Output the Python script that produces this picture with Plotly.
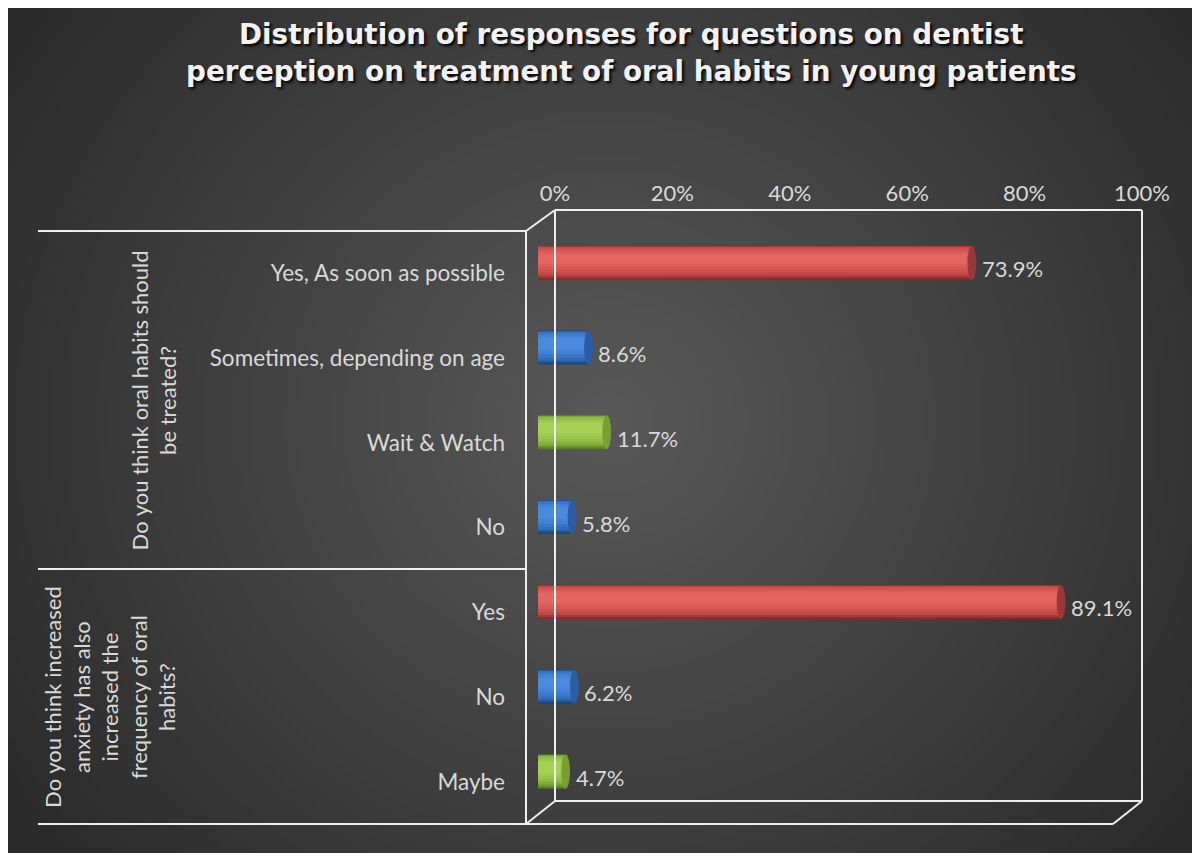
import base64
import struct
import zlib

import numpy as np
import plotly.graph_objects as go

# figure sized so that, with the page's 8px body margin, it fits the 1200x861 window exactly
W, H = 1184, 845
OFF = 8

# ---------------- data ----------------
title_lines = ["Distribution of responses for questions on dentist",
               "perception on treatment of oral habits in young patients"]
group_labels = ["Do you think oral habits should<br>be treated?",
                "Do you think increased<br>anxiety has also<br>increased the<br>frequency of oral<br>habits?"]
group_sizes = [4, 3]
categories = ["Yes, As soon as possible", "Sometimes, depending on age", "Wait & Watch", "No",
              "Yes", "No", "Maybe"]
values = [73.9, 8.6, 11.7, 5.8, 89.1, 6.2, 4.7]
color_keys = ["red", "blue", "green", "blue", "red", "blue", "green"]
x_ticks = [0, 20, 40, 60, 80, 100]
x_tick_labels = ["0%", "20%", "40%", "60%", "80%", "100%"]

# ---------------- styling ----------------
FONT = "Lato"
TXT = "#d9d9d9"
LINE = "#eeeeee"

layer_px = [(-17, 17), (-16.5, 15), (-16, 13), (-15, 10), (-13, 7), (-11, 4), (-9, 1)]
palette = {
    "red":   ["#852e2c", "#a53b39", "#bf4946", "#cd514e", "#d65854", "#dd5f5b", "#e2655f"],
    "blue":  ["#1d4780", "#285a9f", "#336cbb", "#3b77c9", "#417fd2", "#4685d8", "#4a8bdd"],
    "green": ["#5a8222", "#709830", "#84ae3c", "#90bd45", "#98c64b", "#9fcd51", "#a5d256"],
}
cap_color = {"red": "#96393a", "blue": "#2b5da0", "green": "#7a9e36"}

SLOT = 84.8  # pixel height of one category slot


def px(x):
    return (x - OFF) / W


def py(y):
    return 1 - (y - OFF) / H


def make_bg(w=296, h=211):
    yy, xx = np.mgrid[0:h, 0:w]
    X = (xx + 0.5) * (W / w) + OFF
    Y = (yy + 0.5) * (H / h) + OFF
    d = np.hypot(X - 610, (Y - 420) * 1.05)
    t = np.clip(1 - d / 720, 0, 1)
    v = (43 + 46 * t).astype(np.uint8)
    raw = b"".join(b"\x00" + v[r].tobytes() for r in range(h))

    def chunk(tag, data):
        return (struct.pack(">I", len(data)) + tag + data +
                struct.pack(">I", zlib.crc32(tag + data) & 0xFFFFFFFF))

    png = (b"\x89PNG\r\n\x1a\n" +
           chunk(b"IHDR", struct.pack(">IIBBBBB", w, h, 8, 0, 0, 0, 0)) +
           chunk(b"IDAT", zlib.compress(raw, 9)) + chunk(b"IEND", b""))
    return "data:image/png;base64," + base64.b64encode(png).decode()


fig = go.Figure()
n = len(categories)
ypos = list(range(n))

for li, (top, bot) in enumerate(layer_px):
    fig.add_trace(go.Bar(
        x=values, y=ypos, orientation="h",
        width=(bot - top) / SLOT, offset=top / SLOT,
        marker=dict(color=[palette[k][li] for k in color_keys], line=dict(width=0)),
        hoverinfo="skip", showlegend=False, xaxis="x", yaxis="y",
    ))

fig.add_trace(go.Scatter(x=[0] * n, y=ypos, mode="markers", marker=dict(opacity=0),
                         hoverinfo="skip", showlegend=False, xaxis="x", yaxis="y2"))
fig.add_trace(go.Scatter(x=x_ticks, y=[0] * len(x_ticks), mode="markers", marker=dict(opacity=0),
                         hoverinfo="skip", showlegend=False, xaxis="x2", yaxis="y"))

shapes = []
annotations = []
hw = 0.75
for i, (v, k) in enumerate(zip(values, color_keys)):
    shapes.append(dict(type="circle", xref="x", yref="y", x0=-hw, x1=hw,
                       y0=i - 16 / SLOT, y1=i + 16 / SLOT, fillcolor=palette[k][3],
                       line=dict(width=0), layer="below"))
    shapes.append(dict(type="circle", xref="x", yref="y", x0=v - hw, x1=v + hw,
                       y0=i - 17 / SLOT, y1=i + 17 / SLOT, fillcolor=cap_color[k],
                       line=dict(width=0), layer="above"))
    annotations.append(dict(x=v, y=i, xref="x", yref="y", text=f"{v:.1f}%", showarrow=False,
                            xanchor="left", xshift=8, yshift=-6,
                            font=dict(family=FONT, size=22, color=TXT)))

frame = [
    ((555, 210), (1142, 210)), ((1142, 210), (1142, 801)), ((1142, 801), (555, 801)),
    ((555, 801), (555, 210)),
    ((526, 231), (526, 824)), ((526, 824), (1113, 824)),
    ((526, 231), (555, 210)), ((1113, 824), (1142, 801)), ((526, 824), (555, 801)),
    ((38, 231), (526, 231)), ((38, 569), (526, 569)), ((38, 824), (526, 824)),
]
for (x0, y0), (x1, y1) in frame:
    shapes.append(dict(type="line", xref="paper", yref="paper", x0=px(x0), y0=py(y0),
                       x1=px(x1), y1=py(y1), line=dict(color=LINE, width=2), layer="above"))

group_x = [154, 110]
start = 0
front_top, front_bot = 231, 824
slot_front = (front_bot - front_top) / n
for g, size, gx in zip(group_labels, group_sizes, group_x):
    yc = front_top + slot_front * (start + size / 2)
    annotations.append(dict(x=px(gx), y=py(yc), xref="paper", yref="paper", text=g,
                            textangle=-90, showarrow=False, xanchor="center", yanchor="middle",
                            align="center", font=dict(family=FONT, size=22, color=TXT)))
    start += size

for line_text, ly in zip(title_lines, [35, 72]):
    annotations.append(dict(x=px(631), y=py(ly), xref="paper", yref="paper",
                            text=line_text, showarrow=False,
                            xanchor="center", yanchor="middle", align="center",
                            font=dict(family="DejaVu Sans", size=27.8, color="#f2f2f2",
                                      weight="bold", shadow="2px 2px 3px #000000")))

bar_top = 262.7 - SLOT / 2
bar_bot = bar_top + SLOT * n

fig.update_layout(
    width=W, height=H, margin=dict(l=0, r=0, t=0, b=0, pad=0, autoexpand=False),
    paper_bgcolor="#2b2b2b", plot_bgcolor="rgba(0,0,0,0)",
    barmode="overlay", showlegend=False,
    xaxis=dict(domain=[px(538), px(1125)], range=[0, 100], visible=False, fixedrange=True,
               automargin=False),
    yaxis=dict(domain=[py(bar_bot), py(bar_top)], range=[n - 0.5, -0.5], visible=False,
               fixedrange=True, automargin=False),
    yaxis2=dict(domain=[py(front_bot), py(front_top)], range=[n - 0.5, -0.5], anchor="free",
                position=px(526), side="left", tickmode="array", tickvals=ypos,
                ticktext=categories, showgrid=False, zeroline=False, showline=False, ticks="",
                ticklabelstandoff=21, tickfont=dict(family=FONT, size=22.5, color=TXT),
                fixedrange=True, automargin=False),
    xaxis2=dict(domain=[px(555), px(1142)], range=[0, 100], anchor="free", position=py(210),
                side="top", tickmode="array", tickvals=x_ticks, ticktext=x_tick_labels,
                showgrid=False, zeroline=False, showline=False, ticks="",
                ticklabelstandoff=5, tickfont=dict(family=FONT, size=22, color=TXT),
                fixedrange=True, automargin=False),
    shapes=shapes, annotations=annotations,
    images=[dict(source=make_bg(), xref="paper", yref="paper", x=0, y=1,
                 sizex=1, sizey=1, xanchor="left", yanchor="top",
                 sizing="stretch", layer="below")],
)

fig.write_html("out.html")
